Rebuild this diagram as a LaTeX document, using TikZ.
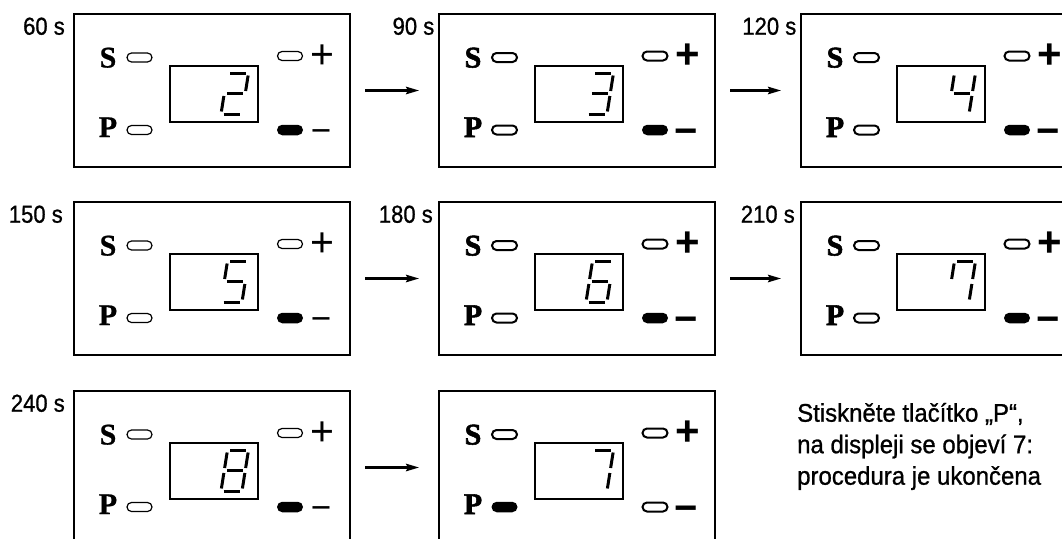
\documentclass[tikz,border=0pt]{standalone}
\usepackage{fontspec}
\setmainfont{Liberation Sans}
\newfontfamily\labfont{Liberation Sans}[FakeStretch=0.9, FakeBold=0.9]
\newfontfamily\txtfont{Liberation Sans}[FakeStretch=0.94, FakeBold=0.9]
\newfontfamily\spfont{Liberation Serif}[BoldFeatures={FakeBold=0.8}]
\newfontfamily\spfontH{Liberation Serif}[BoldFeatures={FakeBold=1.8}]
\newfontfamily\pmfont{Liberation Sans}
\usetikzlibrary{arrows.meta,shapes.misc}

\tikzset{
  panel/.style={draw, line width=2pt, minimum width=276pt, minimum height=153pt, inner sep=0pt, outer sep=0pt, anchor=north west},
  disp/.style={draw, line width=1.5pt, minimum width=88pt, minimum height=56pt, inner sep=0pt, outer sep=0pt},
  ovalE/.style={draw, line width=\ovlw, rounded rectangle, minimum width=25pt, minimum height=9pt, inner sep=0pt, outer sep=0pt},
  ovalF/.style={fill=black, rounded rectangle, minimum width=26pt, minimum height=10.5pt, inner sep=0pt, outer sep=0pt},
  seg/.style={line width=3pt},
  lbl/.style={font=\labfont\fontsize{24.5}{28}\selectfont, inner sep=0pt, anchor=base east},
  sp/.style={font=\SPfont\fontsize{30}{34}\selectfont, inner sep=0pt, anchor=base},
  plusn/.style={font=\PMfont\fontsize{\plussz}{\plussz}\selectfont, inner sep=0pt, anchor=base},
  minusn/.style={font=\PMfont\fontsize{\minussz}{\minussz}\selectfont, inner sep=0pt, anchor=base},
  txt/.style={font=\txtfont\fontsize{25.5}{31.5}\selectfont, inner sep=0pt, anchor=base west},
  arr/.style={line width=2.2pt, -{Stealth[length=13pt,width=7.5pt,inset=2pt]}, shorten <=15pt, shorten >=20pt}
}

\newcommand\setthin{%
  \def\SPfont{\spfont\bfseries}%
  \def\PMfont{\pmfont\mdseries}%
  \def\ovlw{1.2pt}%
  \def\plussz{41}\def\minussz{35}%
  \def\plusy{54.4}\def\minusy{128.7}}
\newcommand\setbold{%
  \def\SPfont{\spfontH\bfseries}%
  \def\PMfont{\pmfont\bfseries}%
  \def\ovlw{2pt}%
  \def\plussz{42}\def\minussz{40}%
  \def\plusy{54.8}\def\minusy{130.5}}

\newcommand\sgA{\draw[seg] (2.5,0) -- (18.5,0);}
\newcommand\sgB{\draw[seg] (21,2.5) -- (21,18);}
\newcommand\sgC{\draw[seg] (21,23) -- (21,38.5);}
\newcommand\sgD{\draw[seg] (2.5,41) -- (18.5,41);}
\newcommand\sgE{\draw[seg] (0,23) -- (0,38.5);}
\newcommand\sgF{\draw[seg] (0,2.5) -- (0,18);}
\newcommand\sgG{\draw[seg] (2.5,20.5) -- (18.5,20.5);}

% #1 name, #2 x, #3 y, #4 label, #5 label x (relative), #6 style, #7 segments, #8 P lit
\newcommand\drawpanel[8]{%
  \node[panel] (#1) at (#2,#3) {};
  \begin{scope}[shift={(#2,#3)}]
    #6
    \node[lbl] (#1lab) at (#5,20.7) {#4};
    \node[sp] (#1S) at (34,53.5) {S};
    \node[sp] (#1P) at (34,123) {P};
    \node[disp] (#1disp) at (140,80) {};
    \ifnum#8=1
      \node[ovalF] (#1po) at (65.5,116) {};
      \node[ovalE] (#1mo) at (216,116) {};
    \else
      \node[ovalE] (#1po) at (65.5,116) {};
      \node[ovalF] (#1mo) at (216,116) {};
    \fi
    \node[ovalE] (#1so) at (65.5,43.5) {};
    \node[ovalE] (#1ao) at (216,42) {};
    \node[plusn] (#1plus) at (248.5,\plusy) {+};
    \node[minusn] (#1minus) at (247,\minusy) {−};
    \begin{scope}[shift={(153.5,59)}, xslant=0.1585]
      #7
    \end{scope}
  \end{scope}
}

\begin{document}
\begin{tikzpicture}[x=1pt,y=-1pt]
\useasboundingbox (0,0) rectangle (1062,538);
\fill[white] (0,0) rectangle (1062,538);
\clip (0,0) rectangle (1062,538);

\drawpanel{pa}{74}{14}{60 s}{-9}{\setthin}{\sgA\sgB\sgG\sgE\sgD}{0}
\drawpanel{pb}{439}{14}{90 s}{-4.5}{\setbold}{\sgA\sgB\sgG\sgC\sgD}{0}
\drawpanel{pc}{801}{14}{120 s}{-4.5}{\setbold}{\sgF\sgG\sgB\sgC}{0}

\drawpanel{pd}{74}{202}{150 s}{-11}{\setthin}{\sgA\sgF\sgG\sgC\sgD}{0}
\drawpanel{pe}{439}{202}{180 s}{-6}{\setbold}{\sgA\sgF\sgG\sgE\sgC\sgD}{0}
\drawpanel{pf}{801}{202}{210 s}{-6}{\setbold}{\sgA\sgF\sgB\sgC}{0}

\drawpanel{pg}{74}{391}{240 s}{-9}{\setthin}{\sgA\sgB\sgC\sgD\sgE\sgF\sgG}{0}
\drawpanel{ph}{439}{391}{}{-6}{\setbold}{\sgA\sgB\sgC}{1}

\draw[arr] (pa.east) -- (pb.west);
\draw[arr] (pb.east) -- (pc.west);
\draw[arr] (pd.east) -- (pe.west);
\draw[arr] (pe.east) -- (pf.west);
\draw[arr] (pg.east) -- (ph.west);

\node[txt] (t1) at (797,421.7) {Stiskněte tlačítko „P“,};
\node[txt] (t2) at (797,453.2) {na displeji se objeví 7:};
\node[txt] (t3) at (797,484.7) {procedura je ukončena};
\end{tikzpicture}
\end{document}
